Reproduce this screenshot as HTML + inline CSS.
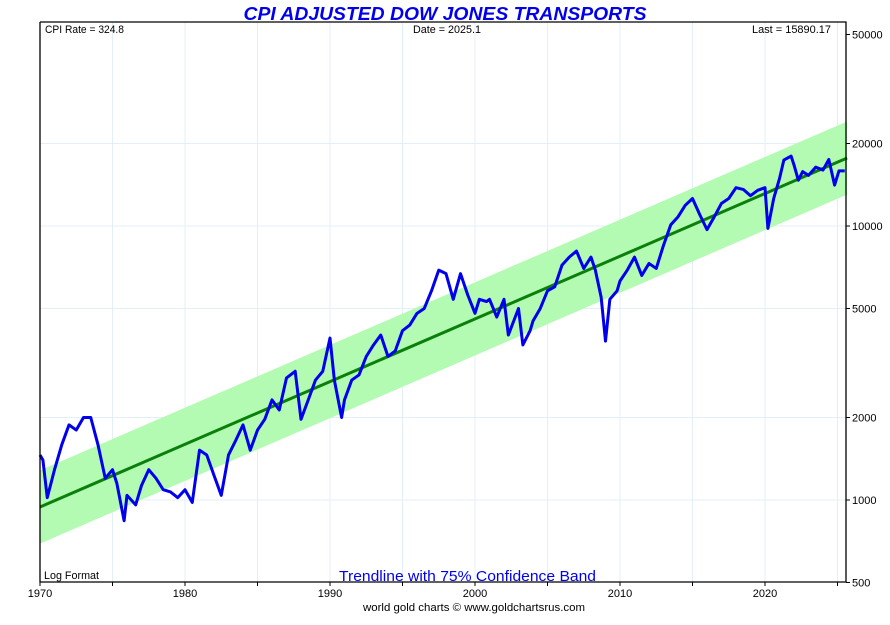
<!DOCTYPE html>
<html><head><meta charset="utf-8"><style>
body{margin:0;background:#fff;}
svg{display:block;font-family:"Liberation Sans",sans-serif;}
</style></head><body>
<svg id="chart" width="890" height="625" xmlns="http://www.w3.org/2000/svg"></svg>
<script>
const years = [1970,1970.2,1970.5,1971,1971.5,1972,1972.5,1973,1973.5,1974,1974.5,1975,1975.3,1975.8,1976,1976.6,1977,1977.5,1978,1978.5,1979,1979.5,1980,1980.5,1981,1981.5,1982,1982.5,1983,1983.5,1984,1984.5,1985,1985.5,1986,1986.5,1987,1987.6,1988,1988.5,1989,1989.5,1990,1990.3,1990.8,1991,1991.5,1992,1992.5,1993,1993.5,1994,1994.5,1995,1995.5,1996,1996.5,1997,1997.5,1998,1998.5,1999,1999.5,2000,2000.3,2000.8,2001,2001.5,2002,2002.3,2003,2003.3,2003.8,2004,2004.5,2005,2005.5,2006,2006.5,2007,2007.5,2008,2008.3,2008.7,2009,2009.3,2009.8,2010,2010.5,2011,2011.5,2012,2012.5,2013,2013.5,2014,2014.5,2015,2015.5,2016,2016.5,2017,2017.5,2018,2018.5,2019,2019.5,2020,2020.2,2020.6,2021,2021.3,2021.8,2022,2022.3,2022.6,2023,2023.5,2024,2024.4,2024.8,2025.1,2025.5];
const values = [1460,1400,1020,1290,1590,1880,1800,2000,2000,1590,1200,1290,1150,840,1040,960,1130,1290,1200,1090,1070,1020,1090,980,1520,1460,1230,1040,1460,1650,1880,1520,1800,1970,2320,2130,2790,2950,1970,2320,2740,2950,3900,2740,2000,2320,2740,2860,3340,3680,4000,3340,3500,4150,4350,4800,5000,5800,6900,6700,5400,6700,5600,4800,5400,5300,5400,4650,5400,4000,5000,3680,4150,4500,5000,5800,6000,7200,7700,8100,7000,7700,6900,5500,3800,5400,5800,6300,6900,7700,6600,7300,7000,8500,10100,10800,11900,12600,11000,9700,10800,12100,12600,13800,13600,12900,13500,13800,9800,12600,14900,17400,18000,16700,14700,15800,15300,16400,16000,17500,14100,15890,15890];
const trendStart = [1970, 943];
const trendEnd = [2025.66, 17700];
const bandFactor = [1.36];
const yTicks = [500,1000,2000,5000,10000,20000,50000];
const xTicks = [1970,1980,1990,2000,2010,2020];

const L=40,R=846,T=22,B=582;
const x = yr => L + (yr-1970)*14.5;
const y = v => 500 - (Math.log10(v)-3)*274;
const NS="http://www.w3.org/2000/svg";
const svg=document.getElementById('chart');
function mk(tag,attrs,parent){const e=document.createElementNS(NS,tag);for(const k in attrs)e.setAttribute(k,attrs[k]);(parent||svg).appendChild(e);return e;}

// grid
const grid=mk('g',{});


for(let yr=1975;yr<=2025;yr+=5){mk('line',{x1:x(yr),x2:x(yr),y1:T,y2:B,stroke:'#e3eff8','stroke-width':1},grid);}
[1000,2000,5000,10000,20000].forEach(v=>mk('line',{x1:L,x2:R,y1:y(v),y2:y(v),stroke:'#e3eff8','stroke-width':1},grid));

// band
const bf=bandFactor[0];
const band=mk('polygon',{points:[[x(trendStart[0]),y(trendStart[1]*bf)],[x(trendEnd[0]),y(trendEnd[1]*bf)],[x(trendEnd[0]),y(trendEnd[1]/bf)],[x(trendStart[0]),y(trendStart[1]/bf)]].map(p=>p.join(',')).join(' '),fill:'#b3fbb3'});


const tl=mk('line',{x1:x(trendStart[0]),y1:y(trendStart[1]),x2:x(trendEnd[0]),y2:y(trendEnd[1]),stroke:'#0a800a','stroke-width':3});



// series
const pl=mk('polyline',{points:years.map((yr,i)=>x(yr)+','+y(values[i])).join(' '),fill:'none',stroke:'#0000ee','stroke-width':3,'stroke-linejoin':'round'});



// frame
const fr=mk('path',{d:`M${L},${T}H${R}V${B}M${L},${T}V${B}H${R}`,stroke:'#000','stroke-width':1.3,fill:'none'});



// y ticks
yTicks.forEach(v=>{
  mk('line',{x1:R,x2:R+4,y1:y(v),y2:y(v),stroke:'#000'});
  const t=mk('text',{x:R+6,y:y(v)+4,'font-size':11,fill:'#000'});t.textContent=v;
  
  
});
// x ticks
for(let yr=1970;yr<=2025;yr+=5)mk('line',{x1:x(yr),x2:x(yr),y1:B,y2:B+4,stroke:'#000'});
xTicks.forEach(yr=>{
  const t=mk('text',{x:x(yr),y:B+15,'font-size':11,'text-anchor':'middle'});t.textContent=yr;
  
  
});
</script>
<svg style="position:absolute;left:0;top:0" width="890" height="625" xmlns="http://www.w3.org/2000/svg" font-family="Liberation Sans, sans-serif">
<text x="445" y="20" text-anchor="middle" font-size="18" font-weight="bold" font-style="italic" fill="#0000ee" textLength="403" lengthAdjust="spacingAndGlyphs">CPI ADJUSTED DOW JONES TRANSPORTS</text>
<text x="45" y="33" font-size="11" textLength="79" lengthAdjust="spacingAndGlyphs">CPI Rate = 324.8</text>
<text x="413" y="33" font-size="11" textLength="68" lengthAdjust="spacingAndGlyphs">Date = 2025.1</text>
<text x="752" y="33" font-size="11" textLength="79" lengthAdjust="spacingAndGlyphs">Last = 15890.17</text>
<text x="44" y="579" font-size="11" textLength="55" lengthAdjust="spacingAndGlyphs">Log Format</text>
<text x="339" y="581" font-size="15" fill="#0000ee" textLength="257" lengthAdjust="spacingAndGlyphs">Trendline with 75% Confidence Band</text>
<text x="474" y="611" text-anchor="middle" font-size="11" textLength="222" lengthAdjust="spacingAndGlyphs">world gold charts © www.goldchartsrus.com</text>
</svg>
</body></html>
